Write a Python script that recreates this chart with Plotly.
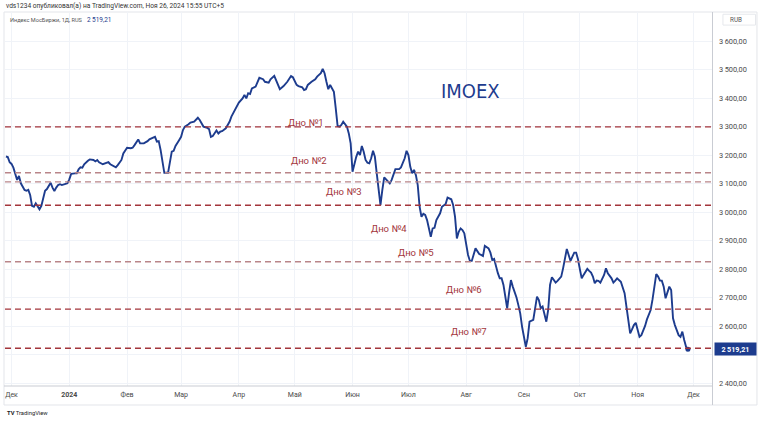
import plotly.graph_objects as go

# ---------------- data ----------------
dates = [
 "2023-11-28","2023-11-29","2023-11-30","2023-12-01","2023-12-02","2023-12-03","2023-12-04","2023-12-05","2023-12-06","2023-12-08",
 "2023-12-09","2023-12-10","2023-12-11","2023-12-12","2023-12-13","2023-12-14","2023-12-15","2023-12-16","2023-12-17","2023-12-18",
 "2023-12-19","2023-12-20","2023-12-22","2023-12-23","2023-12-24","2023-12-25","2023-12-26","2023-12-27","2023-12-28","2023-12-30",
 "2023-12-31","2024-01-01","2024-01-02","2024-01-04","2024-01-05","2024-01-06","2024-01-07","2024-01-08","2024-01-09","2024-01-11",
 "2024-01-12","2024-01-14","2024-01-15","2024-01-16","2024-01-17","2024-01-19","2024-01-21","2024-01-22","2024-01-23","2024-01-25",
 "2024-01-26","2024-01-27","2024-01-29","2024-01-30","2024-02-01","2024-02-03","2024-02-04","2024-02-05","2024-02-07","2024-02-08",
 "2024-02-10","2024-02-12","2024-02-13","2024-02-15","2024-02-16","2024-02-17","2024-02-18","2024-02-19","2024-02-20","2024-02-21",
 "2024-02-23","2024-02-24","2024-02-25","2024-02-26","2024-02-27","2024-02-29","2024-03-01","2024-03-02","2024-03-03","2024-03-05",
 "2024-03-06","2024-03-08","2024-03-09","2024-03-10","2024-03-11","2024-03-12","2024-03-13","2024-03-15","2024-03-16","2024-03-17",
 "2024-03-18","2024-03-20","2024-03-21","2024-03-22","2024-03-23","2024-03-25","2024-03-26","2024-03-27","2024-03-28","2024-03-30",
 "2024-03-31","2024-04-01","2024-04-03","2024-04-04","2024-04-05","2024-04-06","2024-04-07","2024-04-08","2024-04-10","2024-04-11",
 "2024-04-12","2024-04-14","2024-04-15","2024-04-17","2024-04-18","2024-04-20","2024-04-21","2024-04-22","2024-04-23","2024-04-25",
 "2024-04-27","2024-04-29","2024-04-30","2024-05-02","2024-05-03","2024-05-05","2024-05-06","2024-05-07","2024-05-08","2024-05-10",
 "2024-05-12","2024-05-13","2024-05-15","2024-05-16","2024-05-17","2024-05-18","2024-05-19","2024-05-20","2024-05-22","2024-05-23",
 "2024-05-24","2024-05-25","2024-05-26","2024-05-27","2024-05-29","2024-05-30","2024-05-31","2024-06-01","2024-06-02","2024-06-03",
 "2024-06-04","2024-06-05","2024-06-06","2024-06-07","2024-06-08","2024-06-09","2024-06-10","2024-06-11","2024-06-12","2024-06-13",
 "2024-06-14","2024-06-15","2024-06-16","2024-06-17","2024-06-18","2024-06-19","2024-06-21","2024-06-22","2024-06-23","2024-06-24",
 "2024-06-26","2024-06-27","2024-06-29","2024-06-30","2024-07-01","2024-07-02","2024-07-03","2024-07-04","2024-07-05","2024-07-06",
 "2024-07-07","2024-07-08","2024-07-09","2024-07-10","2024-07-11","2024-07-12","2024-07-13","2024-07-14","2024-07-15","2024-07-16",
 "2024-07-18","2024-07-19","2024-07-21","2024-07-22","2024-07-24","2024-07-25","2024-07-26","2024-07-27","2024-07-28","2024-07-29",
 "2024-07-30","2024-07-31","2024-08-01","2024-08-02","2024-08-03","2024-08-04","2024-08-06","2024-08-07","2024-08-08","2024-08-09",
 "2024-08-10","2024-08-11","2024-08-13","2024-08-14","2024-08-15","2024-08-16","2024-08-17","2024-08-18","2024-08-19","2024-08-20",
 "2024-08-21","2024-08-22","2024-08-23","2024-08-24","2024-08-25","2024-08-26","2024-08-27","2024-08-28","2024-08-29","2024-08-30",
 "2024-08-31","2024-09-01","2024-09-02","2024-09-03","2024-09-04","2024-09-06","2024-09-08","2024-09-09","2024-09-10","2024-09-11",
 "2024-09-12","2024-09-13","2024-09-14","2024-09-15","2024-09-16","2024-09-17","2024-09-18","2024-09-19","2024-09-21","2024-09-22",
 "2024-09-23","2024-09-24","2024-09-25","2024-09-26","2024-09-27","2024-09-28","2024-09-29","2024-09-30","2024-10-01","2024-10-02",
 "2024-10-03","2024-10-05","2024-10-06","2024-10-07","2024-10-08","2024-10-09","2024-10-10","2024-10-11","2024-10-12","2024-10-14",
 "2024-10-15","2024-10-16","2024-10-18","2024-10-19","2024-10-20","2024-10-21","2024-10-23","2024-10-24","2024-10-25","2024-10-26",
 "2024-10-27","2024-10-28","2024-10-29","2024-10-30","2024-10-31","2024-11-01","2024-11-02","2024-11-03","2024-11-04","2024-11-05",
 "2024-11-06","2024-11-08","2024-11-09","2024-11-10","2024-11-11","2024-11-12","2024-11-13","2024-11-14","2024-11-15","2024-11-16",
 "2024-11-17","2024-11-18","2024-11-19","2024-11-20","2024-11-21","2024-11-22","2024-11-23","2024-11-24","2024-11-25","2024-11-26",
 "2024-11-27","2024-11-28",
]
values = [
 3195,3193,3175,3169,3156,3136,3113,3127,3101,3078,
 3075,3078,3060,3022,3019,3031,3019,3010,3022,3051,
 3075,3081,3103,3086,3074,3086,3095,3098,3095,3099,
 3101,3115,3134,3136,3136,3150,3157,3156,3168,3180,
 3185,3183,3178,3183,3175,3168,3171,3175,3168,3159,
 3157,3165,3183,3206,3226,3224,3226,3235,3255,3241,
 3241,3249,3255,3261,3264,3247,3249,3218,3171,3138,
 3138,3183,3212,3215,3232,3253,3264,3288,3300,3308,
 3314,3317,3326,3331,3323,3311,3300,3296,3291,3264,
 3267,3286,3276,3282,3284,3294,3306,3317,3335,3361,
 3370,3384,3399,3411,3399,3417,3414,3434,3440,3457,
 3471,3466,3457,3454,3466,3478,3463,3442,3431,3442,
 3457,3477,3473,3446,3442,3438,3428,3431,3446,3457,
 3466,3475,3487,3502,3487,3457,3431,3446,3422,3364,
 3302,3300,3306,3317,3300,3276,3241,3142,3171,3194,
 3212,3200,3232,3212,3183,3173,3171,3189,3215,3194,
 3136,3078,3025,3078,3122,3115,3101,3113,3130,3151,
 3151,3157,3189,3215,3200,3159,3136,3148,3130,3095,
 3019,2984,2994,2990,2972,2943,2914,2943,2945,2972,
 2996,3019,3029,3051,3045,3025,2984,2908,2931,2943,
 2937,2926,2885,2850,2829,2829,2873,2861,2853,2850,
 2846,2882,2873,2858,2832,2836,2809,2786,2768,2768,
 2745,2710,2663,2716,2762,2739,2721,2701,2674,2645,
 2598,2563,2528,2558,2616,2622,2704,2692,2663,2669,
 2645,2616,2657,2745,2772,2762,2753,2759,2774,2803,
 2838,2871,2850,2829,2844,2858,2858,2835,2800,2768,
 2780,2801,2794,2788,2774,2751,2760,2759,2753,2780,
 2803,2786,2768,2753,2760,2768,2756,2733,2716,2669,
 2622,2575,2589,2604,2612,2587,2563,2569,2584,2601,
 2624,2657,2694,2739,2783,2774,2760,2760,2739,2698,
 2721,2739,2727,2628,2604,2587,2569,2563,2581,2552,
 2528,2519.21,
]

support_levels = [3299, 3138, 3106, 3024, 2826, 2660, 2523]
support_strong = [True, False, False, True, False, True, True]
support_labels = ["Дно №1", "Дно №2", "Дно №3", "Дно №4", "Дно №5", "Дно №6", "Дно №7"]

month_ticks = ["2023-12-01", "2024-01-01", "2024-02-01", "2024-03-01", "2024-04-01", "2024-05-01",
               "2024-06-01", "2024-07-01", "2024-08-01", "2024-09-01", "2024-10-01", "2024-11-01", "2024-12-01"]
month_labels = ["Дек", "<b>2024</b>", "Фев", "Мар", "Апр", "Май", "Июн", "Июл", "Авг", "Сен", "Окт", "Ноя", "Дек"]
price_ticks = [2400, 2500, 2600, 2700, 2800, 2900, 3000, 3100, 3200, 3300, 3400, 3500, 3600]

# ---------------- styling ----------------
LINE = "#1d3c8e"
RED_DARK = "#a3353b"
RED_LIGHT = "#b98589"
GRID = "#f0f3f8"
AXIS = "#c9ccd3"
TXT = "#4a4a4a"
FONT = "Roboto, Noto Sans, DejaVu Sans, sans-serif"

def fmt_price(v):
    s = f"{v:,.2f}"
    return s.replace(",", "\u2009").replace(".", ",")

last_val = values[-1]
# the price tick hidden behind the last-price badge is left unlabeled
price_text = ["" if abs(v - last_val) < 40 else fmt_price(v) for v in price_ticks]

fig = go.Figure()
fig.add_trace(go.Scatter(x=dates, y=values, mode="lines",
                         line=dict(color=LINE, width=1.9), hoverinfo="skip", showlegend=False))
fig.add_trace(go.Scatter(x=[dates[-1]], y=[last_val], mode="markers",
                         marker=dict(color=LINE, size=5), hoverinfo="skip", showlegend=False))

shapes = []
for lvl, strong in zip(support_levels, support_strong):
    shapes.append(dict(type="line", xref="paper", yref="y", x0=0, x1=1, y0=lvl, y1=lvl,
                       line=dict(color=RED_DARK if strong else RED_LIGHT, width=1.4, dash="6px,4px"),
                       layer="above"))
# frame and separators
shapes += [
    dict(type="rect", xref="paper", yref="paper", x0=-0.0014, x1=1.0636, y0=-0.0508, y1=1.0,
         line=dict(color="#e3e5ea", width=1), layer="below"),
    dict(type="line", xref="paper", yref="paper", x0=1.0007, x1=1.0007, y0=-0.0508, y1=1.0,
         line=dict(color=AXIS, width=1)),
    dict(type="line", xref="paper", yref="paper", x0=-0.0014, x1=1.0007, y0=0, y1=0,
         line=dict(color=AXIS, width=1)),
    dict(type="rect", xref="paper", yref="paper", x0=1.0155, x1=1.0615, y0=0.965, y1=0.994,
         line=dict(color="#e6e8ec", width=1)),
]

label_pos = [(0.426, 0.724), (0.430, 0.604), (0.479, 0.519), (0.543, 0.422),
             (0.581, 0.356), (0.649, 0.238), (0.684, 0.126)]
annotations = []
for text, (px, py) in zip(support_labels, label_pos):
    annotations.append(dict(text=text, xref="paper", yref="paper", x=px, y=py, showarrow=False,
                            font=dict(family=FONT, size=9.5, color=RED_DARK)))

annotations += [
    dict(text="IMOEX", xref="paper", yref="paper", x=0.659, y=0.825, showarrow=False,
         font=dict(family="Liberation Sans Narrow, DejaVu Sans Condensed, Roboto, sans-serif",
                   size=20, color=LINE)),
    dict(text="vds1234 опубликовал(а) на TradingView.com, Ноя 26, 2024 15:55 UTC+5",
         xref="paper", yref="paper", x=-0.0014, y=1.016, xanchor="left", yanchor="middle",
         showarrow=False, font=dict(family=FONT, size=6.6, color="#333333")),
    dict(text="Индекс МосБиржи, 1Д, RUS", xref="paper", yref="paper", x=0.0042, y=0.9786,
         xanchor="left", yanchor="middle", showarrow=False,
         font=dict(family=FONT, size=5.6, color="#555555")),
    dict(text=fmt_price(last_val), xref="paper", yref="paper", x=0.113, y=0.9786,
         xanchor="left", yanchor="middle", showarrow=False,
         font=dict(family=FONT, size=6.5, color=LINE)),
    dict(text="RUB", xref="paper", yref="paper", x=1.0226, y=0.979, xanchor="left", yanchor="middle",
         showarrow=False, font=dict(family=FONT, size=6.3, color="#555555")),
    dict(text="<b>TV</b> TradingView", xref="paper", yref="paper", x=-0.0005, y=-0.072,
         xanchor="left", yanchor="middle", showarrow=False,
         font=dict(family=FONT, size=5.8, color="#222222")),
    dict(text="<b>" + fmt_price(last_val) + "</b>", xref="paper", yref="y", x=1.0028, y=last_val,
         xanchor="left", yanchor="middle", showarrow=False, bgcolor=LINE, borderpad=1.5,
         width=38, align="center", font=dict(family=FONT, size=7.2, color="white")),
]

fig.update_layout(
    width=758, height=422,
    margin=dict(l=5, r=46, t=12, b=36),
    paper_bgcolor="white", plot_bgcolor="white",
    shapes=shapes, annotations=annotations,
    xaxis=dict(type="date", range=["2023-11-27 12:00", "2024-12-10 22:00"],
               tickvals=month_ticks, ticktext=month_labels, tickfont=dict(family=FONT, size=7, color=TXT),
               showgrid=True, gridcolor=GRID, gridwidth=1, zeroline=False, showline=False,
               ticks="", ticklabelstandoff=3, fixedrange=True),
    yaxis=dict(range=[2390.5, 3701.7], side="right", tickvals=price_ticks,
               ticktext=price_text,
               tickfont=dict(family=FONT, size=7.4, color=TXT),
               showgrid=True, gridcolor=GRID, gridwidth=1, zeroline=False, showline=False,
               ticks="", ticklabelstandoff=6, fixedrange=True),
)

fig.write_html("out.html")
